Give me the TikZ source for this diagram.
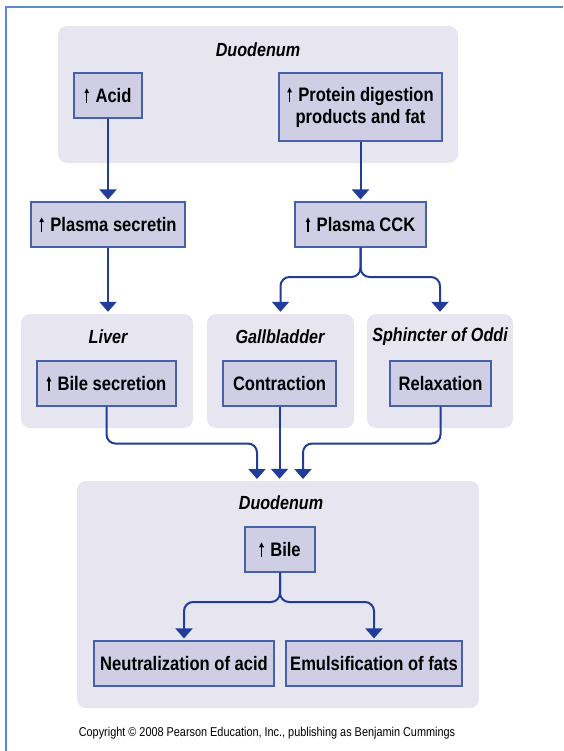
\documentclass[tikz,border=0pt]{standalone}
\usepackage{fontspec}
\setmainfont{Liberation Sans}[FakeStretch=0.85]
\usetikzlibrary{arrows.meta,positioning}
\usepackage{xcolor}

\definecolor{panelfill}{HTML}{E6E5F0}
\definecolor{boxfill}{HTML}{CFCEE4}
\definecolor{boxline}{HTML}{4660AA}
\definecolor{flowblue}{HTML}{1F3D99}
\definecolor{frameblue}{HTML}{5B8AD0}

% small "increase" arrow in front of a label
\newcommand{\incr}{\tikz[baseline=0pt]\draw[line width=1.3pt,-{Triangle[length=5pt,width=4.5pt]}] (0,0) -- (0,14.5pt);\hspace{6.5pt}}

\tikzset{
    panel/.style={fill=panelfill, rounded corners=9pt, inner sep=0pt},
    stepbox/.style={draw=boxline, line width=1.1pt, fill=boxfill, inner sep=2pt, align=center,
        font=\fontsize{19.5}{21.5}\selectfont\bfseries},
    organ/.style={font=\fontsize{19}{21}\selectfont\bfseries\itshape},
    flow/.style={draw=flowblue, line width=2pt, -{Triangle[width=17pt,length=10pt]}, shorten >=2pt}
}

\begin{document}
\begin{tikzpicture}[x=1pt, y=-1pt]
    \useasboundingbox (0,0) rectangle (563,751);
    \draw[frameblue, line width=1.6pt] (6,751) -- (6,7) -- (563,7);

    % panels
    \node[panel, minimum width=400, minimum height=137] (duoA) at (258,94.5) {};
    \node[panel, minimum width=172, minimum height=114] (liver) at (107,371) {};
    \node[panel, minimum width=147, minimum height=114] (gall) at (280.5,371) {};
    \node[panel, minimum width=146, minimum height=114] (oddi) at (440,371) {};
    \node[panel, minimum width=402, minimum height=227] (duoB) at (278,594.5) {};

    \node[organ] (duoAtitle) at (258,50) {Duodenum};
    \node[organ] (livertitle) at (108,337) {Liver};
    \node[organ] (galltitle) at (280,337) {Gallbladder};
    \node[organ] (oddititle) at (440,337) {Sphincter of Oddi};
    \node[organ] (duoBtitle) at (281,503) {Duodenum};

    % boxes
    \node[stepbox, minimum width=68, minimum height=45] (acid) at (108,95.5) {\incr Acid};
    \node[stepbox, minimum width=163, minimum height=68] (protein) at (360.5,107)
        {\incr Protein digestion\\products and fat};
    \node[stepbox, minimum width=154, minimum height=45] (secretin) at (108,224.5) {\incr Plasma secretin};
    \node[stepbox, minimum width=131, minimum height=45] (cck) at (360.5,224.5) {\incr Plasma CCK};
    \node[stepbox, minimum width=139, minimum height=45] (bilesec) at (106.5,383.5) {\incr Bile secretion};
    \node[stepbox, minimum width=113, minimum height=45] (contract) at (279.5,383.5) {Contraction};
    \node[stepbox, minimum width=101, minimum height=45] (relax) at (440.5,383.5) {Relaxation};
    \node[stepbox, minimum width=70, minimum height=45] (bile) at (280,549.5) {\incr Bile};
    \node[stepbox, minimum width=180, minimum height=45] (neutral) at (184,663.5) {Neutralization of acid};
    \node[stepbox, minimum width=176, minimum height=45] (emuls) at (374,663.5) {Emulsification of fats};

    \node[font=\fontsize{12.8}{15}\selectfont] (copy) at (267,733)
        {Copyright \textcopyright{} 2008 Pearson Education, Inc., publishing as Benjamin Cummings};

    % forks and entry points
    \coordinate (cckfork) at (360.5,277);
    \coordinate (bilefork) at (280,602);
    \coordinate (inleft) at (257,481);
    \coordinate (inright) at (303,481);

    \draw[flow] (acid.south) -- (acid.south |- secretin.north);
    \draw[flow] (protein.south) -- (protein.south |- cck.north);
    \draw[flow] (secretin.south) -- (secretin.south |- liver.north);
    \draw[flow, rounded corners=9pt] (cck.south) -- (cckfork) -| (gall.north);
    \draw[flow, rounded corners=9pt] (cck.south) -- (cckfork) -| (oddi.north);
    \draw[flow, rounded corners=9pt] (bilesec.south) -- ++(0,37) -| (inleft);
    \draw[flow] (contract.south) -- (contract.south |- duoB.north);
    \draw[flow, rounded corners=9pt] (relax.south) -- ++(0,37) -| (inright);
    \draw[flow, rounded corners=9pt] (bile.south) -- (bilefork) -| (neutral.north);
    \draw[flow, rounded corners=9pt] (bile.south) -- (bilefork) -| (emuls.north);
\end{tikzpicture}
\end{document}
